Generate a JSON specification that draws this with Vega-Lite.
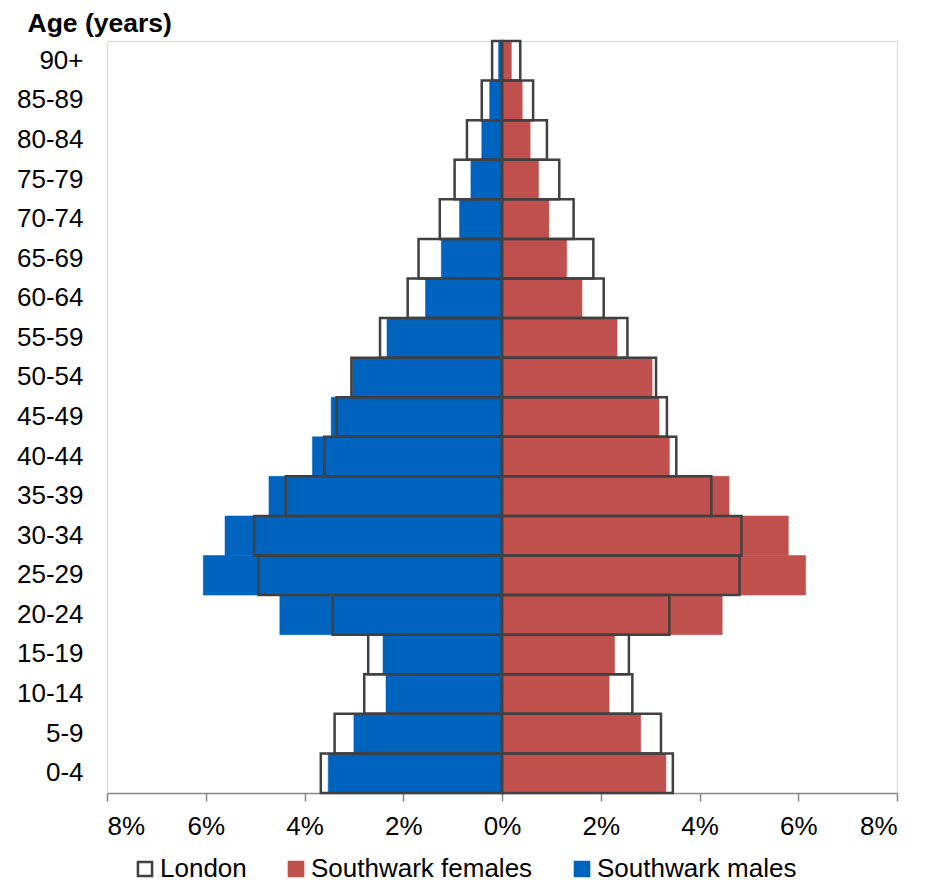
{
  "$schema": "https://vega.github.io/schema/vega-lite/v6.json",
  "width": 790,
  "height": 752,
  "autosize": "none",
  "padding": {"left": 107, "top": 41, "right": 32, "bottom": 89},
  "background": "white",
  "config": {
    "font": "Liberation Sans",
    "view": {"stroke": "#d9d9d9", "strokeWidth": 1}
  },
  "data": {
    "values": [
      {"age": "90+", "series": "London", "sex": "Male", "pct": -0.20},
      {"age": "90+", "series": "London", "sex": "Female", "pct": 0.37},
      {"age": "90+", "series": "Southwark males", "sex": "Male", "pct": -0.07},
      {"age": "90+", "series": "Southwark females", "sex": "Female", "pct": 0.19},
      {"age": "85-89", "series": "London", "sex": "Male", "pct": -0.41},
      {"age": "85-89", "series": "London", "sex": "Female", "pct": 0.63},
      {"age": "85-89", "series": "Southwark males", "sex": "Male", "pct": -0.25},
      {"age": "85-89", "series": "Southwark females", "sex": "Female", "pct": 0.41},
      {"age": "80-84", "series": "London", "sex": "Male", "pct": -0.71},
      {"age": "80-84", "series": "London", "sex": "Female", "pct": 0.91},
      {"age": "80-84", "series": "Southwark males", "sex": "Male", "pct": -0.41},
      {"age": "80-84", "series": "Southwark females", "sex": "Female", "pct": 0.57},
      {"age": "75-79", "series": "London", "sex": "Male", "pct": -0.96},
      {"age": "75-79", "series": "London", "sex": "Female", "pct": 1.16},
      {"age": "75-79", "series": "Southwark males", "sex": "Male", "pct": -0.63},
      {"age": "75-79", "series": "Southwark females", "sex": "Female", "pct": 0.74},
      {"age": "70-74", "series": "London", "sex": "Male", "pct": -1.26},
      {"age": "70-74", "series": "London", "sex": "Female", "pct": 1.45},
      {"age": "70-74", "series": "Southwark males", "sex": "Male", "pct": -0.86},
      {"age": "70-74", "series": "Southwark females", "sex": "Female", "pct": 0.95},
      {"age": "65-69", "series": "London", "sex": "Male", "pct": -1.69},
      {"age": "65-69", "series": "London", "sex": "Female", "pct": 1.85},
      {"age": "65-69", "series": "Southwark males", "sex": "Male", "pct": -1.23},
      {"age": "65-69", "series": "Southwark females", "sex": "Female", "pct": 1.31},
      {"age": "60-64", "series": "London", "sex": "Male", "pct": -1.91},
      {"age": "60-64", "series": "London", "sex": "Female", "pct": 2.06},
      {"age": "60-64", "series": "Southwark males", "sex": "Male", "pct": -1.55},
      {"age": "60-64", "series": "Southwark females", "sex": "Female", "pct": 1.62},
      {"age": "55-59", "series": "London", "sex": "Male", "pct": -2.47},
      {"age": "55-59", "series": "London", "sex": "Female", "pct": 2.54},
      {"age": "55-59", "series": "Southwark males", "sex": "Male", "pct": -2.33},
      {"age": "55-59", "series": "Southwark females", "sex": "Female", "pct": 2.33},
      {"age": "50-54", "series": "London", "sex": "Male", "pct": -3.05},
      {"age": "50-54", "series": "London", "sex": "Female", "pct": 3.12},
      {"age": "50-54", "series": "Southwark males", "sex": "Male", "pct": -3.03},
      {"age": "50-54", "series": "Southwark females", "sex": "Female", "pct": 3.04},
      {"age": "45-49", "series": "London", "sex": "Male", "pct": -3.35},
      {"age": "45-49", "series": "London", "sex": "Female", "pct": 3.34},
      {"age": "45-49", "series": "Southwark males", "sex": "Male", "pct": -3.46},
      {"age": "45-49", "series": "Southwark females", "sex": "Female", "pct": 3.18},
      {"age": "40-44", "series": "London", "sex": "Male", "pct": -3.60},
      {"age": "40-44", "series": "London", "sex": "Female", "pct": 3.53},
      {"age": "40-44", "series": "Southwark males", "sex": "Male", "pct": -3.84},
      {"age": "40-44", "series": "Southwark females", "sex": "Female", "pct": 3.39},
      {"age": "35-39", "series": "London", "sex": "Male", "pct": -4.38},
      {"age": "35-39", "series": "London", "sex": "Female", "pct": 4.24},
      {"age": "35-39", "series": "Southwark males", "sex": "Male", "pct": -4.72},
      {"age": "35-39", "series": "Southwark females", "sex": "Female", "pct": 4.60},
      {"age": "30-34", "series": "London", "sex": "Male", "pct": -5.02},
      {"age": "30-34", "series": "London", "sex": "Female", "pct": 4.85},
      {"age": "30-34", "series": "Southwark males", "sex": "Male", "pct": -5.61},
      {"age": "30-34", "series": "Southwark females", "sex": "Female", "pct": 5.80},
      {"age": "25-29", "series": "London", "sex": "Male", "pct": -4.93},
      {"age": "25-29", "series": "London", "sex": "Female", "pct": 4.81},
      {"age": "25-29", "series": "Southwark males", "sex": "Male", "pct": -6.05},
      {"age": "25-29", "series": "Southwark females", "sex": "Female", "pct": 6.15},
      {"age": "20-24", "series": "London", "sex": "Male", "pct": -3.43},
      {"age": "20-24", "series": "London", "sex": "Female", "pct": 3.39},
      {"age": "20-24", "series": "Southwark males", "sex": "Male", "pct": -4.50},
      {"age": "20-24", "series": "Southwark females", "sex": "Female", "pct": 4.46},
      {"age": "15-19", "series": "London", "sex": "Male", "pct": -2.71},
      {"age": "15-19", "series": "London", "sex": "Female", "pct": 2.57},
      {"age": "15-19", "series": "Southwark males", "sex": "Male", "pct": -2.41},
      {"age": "15-19", "series": "Southwark females", "sex": "Female", "pct": 2.28},
      {"age": "10-14", "series": "London", "sex": "Male", "pct": -2.79},
      {"age": "10-14", "series": "London", "sex": "Female", "pct": 2.64},
      {"age": "10-14", "series": "Southwark males", "sex": "Male", "pct": -2.35},
      {"age": "10-14", "series": "Southwark females", "sex": "Female", "pct": 2.17},
      {"age": "5-9", "series": "London", "sex": "Male", "pct": -3.39},
      {"age": "5-9", "series": "London", "sex": "Female", "pct": 3.22},
      {"age": "5-9", "series": "Southwark males", "sex": "Male", "pct": -3.00},
      {"age": "5-9", "series": "Southwark females", "sex": "Female", "pct": 2.81},
      {"age": "0-4", "series": "London", "sex": "Male", "pct": -3.67},
      {"age": "0-4", "series": "London", "sex": "Female", "pct": 3.46},
      {"age": "0-4", "series": "Southwark males", "sex": "Male", "pct": -3.52},
      {"age": "0-4", "series": "Southwark females", "sex": "Female", "pct": 3.32}
    ]
  },
  "encoding": {
    "y": {
      "field": "age",
      "type": "nominal",
      "sort": ["90+", "85-89", "80-84", "75-79", "70-74", "65-69", "60-64", "55-59", "50-54", "45-49", "40-44", "35-39", "30-34", "25-29", "20-24", "15-19", "10-14", "5-9", "0-4"],
      "scale": {"paddingInner": 0, "paddingOuter": 0},
      "axis": {
        "title": "Age (years)",
        "titleAngle": 0,
        "titleAlign": "left",
        "titleBaseline": "alphabetic",
        "titleX": -80,
        "titleY": -10,
        "titleFontSize": 26.5,
        "titleFontWeight": "bold",
        "titleColor": "#000000",
        "domain": false,
        "ticks": false,
        "labelPadding": 24,
        "labelFontSize": 26,
        "labelColor": "#000000"
      }
    }
  },
  "layer": [
    {
      "transform": [{"filter": "datum.series !== 'London'"}],
      "mark": {"type": "bar", "strokeWidth": 0.5},
      "encoding": {
        "x": {
          "field": "pct",
          "type": "quantitative",
          "stack": null,
          "scale": {"domain": [-8, 8], "nice": false},
          "axis": {
            "title": null,
            "values": [-8, -6, -4, -2, 0, 2, 4, 6, 8],
            "labelExpr": "abs(datum.value) + '%'",
            "grid": false,
            "domainColor": "#868686",
            "domainWidth": 1.5,
            "tickColor": "#868686",
            "tickWidth": 1.5,
            "tickSize": 8,
            "labelPadding": 12,
            "labelFontSize": 26,
            "labelColor": "#000000"
          }
        },
        "fill": {
          "field": "series",
          "type": "nominal",
          "scale": {"domain": ["London", "Southwark females", "Southwark males"], "range": ["#ffffff", "#C0504D", "#0063BE"]},
          "legend": {
            "title": null,
            "orient": "none",
            "legendX": 25,
            "legendY": 815,
            "direction": "horizontal",
            "symbolType": "square",
            "symbolSize": 200,
            "symbolStrokeWidth": 2.5,
            "labelFontSize": 26,
            "labelLimit": 500,
            "labelColor": "#000000",
            "labelOffset": 2,
            "columnPadding": 36
          }
        },
        "stroke": {
          "field": "series",
          "type": "nominal",
          "scale": {"domain": ["London", "Southwark females", "Southwark males"], "range": ["#404040", "#C0504D", "#0063BE"]},
          "legend": {
            "title": null,
            "orient": "none",
            "legendX": 25,
            "legendY": 815,
            "direction": "horizontal",
            "symbolType": "square",
            "symbolSize": 200,
            "symbolStrokeWidth": 2.5,
            "labelFontSize": 26,
            "labelLimit": 500,
            "labelColor": "#000000",
            "labelOffset": 2,
            "columnPadding": 36
          }
        }
      }
    },
    {
      "transform": [{"filter": "datum.series === 'London'"}],
      "mark": {"type": "bar", "fill": "transparent", "stroke": "#404040", "strokeWidth": 2.5},
      "encoding": {
        "x": {"field": "pct", "type": "quantitative", "stack": null}
      }
    },
    {
      "mark": {"type": "rule", "color": "#868686", "strokeWidth": 1.5},
      "encoding": {"x": {"datum": 0}}
    }
  ]
}
